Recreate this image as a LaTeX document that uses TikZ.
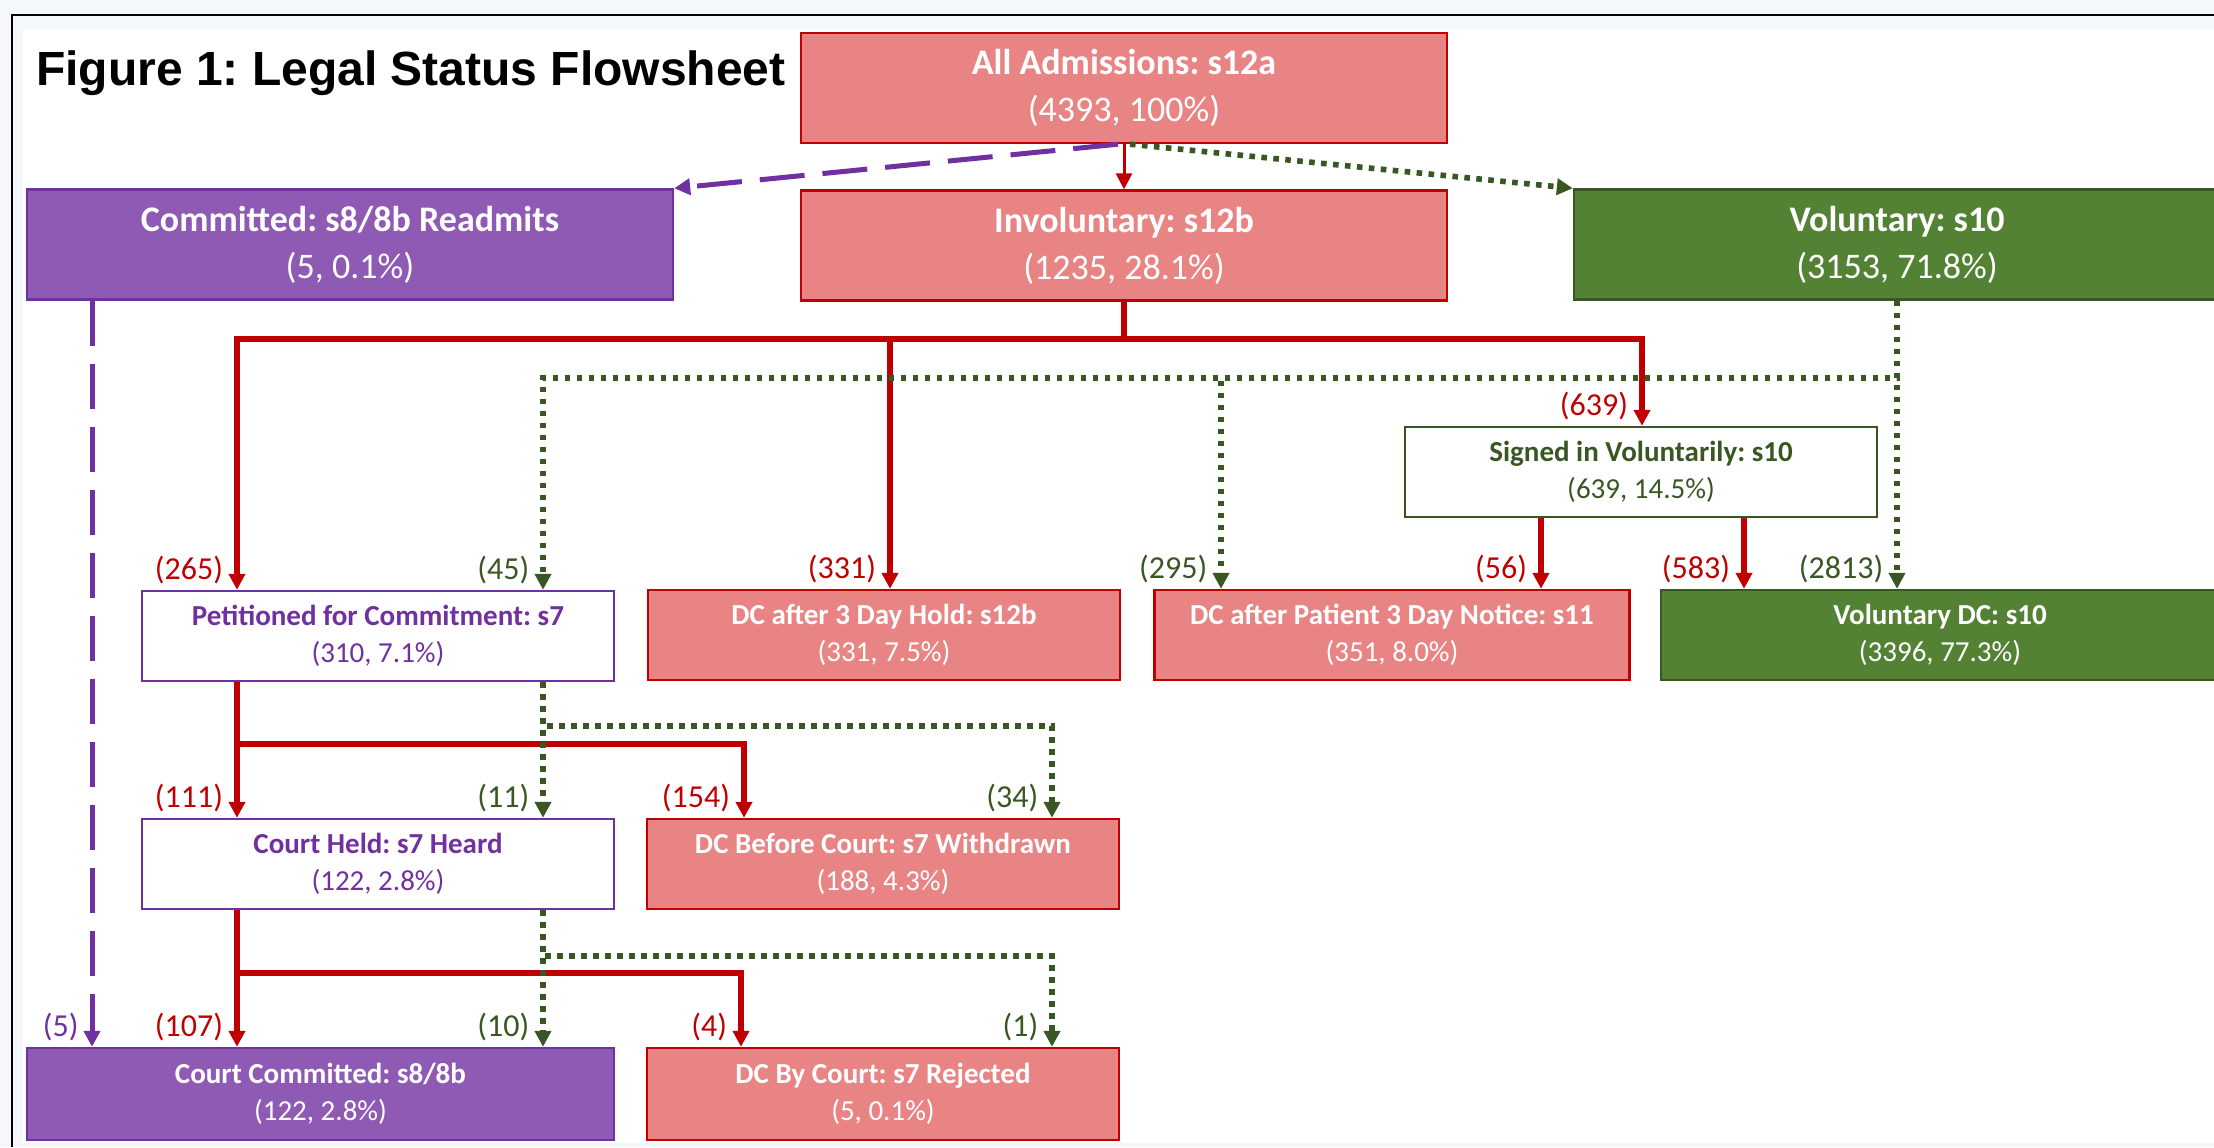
\documentclass[tikz,border=0pt]{standalone}
\usepackage{fontspec}
\setmainfont{Carlito}
\newfontfamily\titlefont{Liberation Sans}
\usetikzlibrary{arrows.meta}
\definecolor{dkred}{HTML}{C00000}
\definecolor{ltred}{HTML}{E88584}
\definecolor{dkgrn}{HTML}{385723}
\definecolor{mdgrn}{HTML}{548235}
\definecolor{dkpur}{HTML}{7030A0}
\definecolor{mdpur}{HTML}{8E5AB4}
\definecolor{bgcol}{HTML}{F5F8FB}
\frenchspacing
\begin{document}
\begin{tikzpicture}[x=0.5pt,y=-0.5pt,>={Triangle[length=8pt,width=8pt]},
  bigbox/.style={line width=1.2pt,minimum width=323pt,minimum height=55pt,align=center,font=\fontsize{18}{23.5}\selectfont},
  smallbox/.style={line width=1.2pt,minimum width=236pt,minimum height=45pt,align=center,font=\fontsize{14.5}{18.5}\selectfont},
  redbox/.style={draw=dkred,fill=ltred,text=white},
  grnbox/.style={draw=dkgrn,fill=mdgrn,text=white},
  purbox/.style={draw=dkpur,fill=mdpur,text=white},
  redln/.style={dkred,line width=3pt},
  grnln/.style={dkgrn,line width=2.8pt,dash pattern=on 2.8pt off 3.2pt},
  purln/.style={dkpur,line width=2.5pt,dash pattern=on 22.5pt off 9pt},
  cnt/.style={font=\fontsize{16}{19}\selectfont,anchor=south east,inner sep=0pt,xshift=-5.5pt,yshift=1.5pt}]
\useasboundingbox (0,0) rectangle (2214,1147);
\fill[bgcol] (0,0) rectangle (2214,1147);
\fill[white] (23,29) rectangle (2214,1143);
\draw[line width=0.8pt] (12,1147) |- (2214,15);
\node[anchor=base west,font=\titlefont\bfseries\fontsize{24}{28}\selectfont] (title) at (29,85) {Figure 1: Legal Status Flowsheet};
\node[bigbox,redbox] (all) at (1124,88) {\textbf{All Admissions: s12a}\\(4393, 100\%)};
\node[bigbox,redbox] (inv) at (1124,245.5) {\textbf{Involuntary: s12b}\\(1235, 28.1\%)};
\node[bigbox,purbox] (com) at (350,244.5) {\textbf{Committed: s8/8b Readmits}\\(5, 0.1\%)};
\node[bigbox,grnbox] (vol) at (1897,244.5) {\textbf{Voluntary: s10}\\(3153, 71.8\%)};
\node[smallbox,draw=dkgrn,fill=white,text=dkgrn] (sig) at (1641,472) {\textbf{Signed in Voluntarily: s10}\\(639, 14.5\%)};
\node[smallbox,draw=dkpur,fill=white,text=dkpur] (pet) at (378,636) {\textbf{Petitioned for Commitment: s7}\\(310, 7.1\%)};
\node[smallbox,redbox] (hold) at (884,635) {\textbf{DC after 3 Day Hold: s12b}\\(331, 7.5\%)};
\node[smallbox,redbox,minimum width=237.5pt] (pat) at (1392,635) {\textbf{DC after Patient 3 Day Notice: s11}\\(351, 8.0\%)};
\node[smallbox,grnbox,minimum width=279pt] (vdc) at (1940,635) {\textbf{Voluntary DC: s10}\\(3396, 77.3\%)};
\node[smallbox,draw=dkpur,fill=white,text=dkpur] (ch) at (378,864) {\textbf{Court Held: s7 Heard}\\(122, 2.8\%)};
\node[smallbox,redbox] (dcb) at (883,864) {\textbf{DC Before Court: s7 Withdrawn}\\(188, 4.3\%)};
\node[smallbox,purbox,minimum width=293.5pt,minimum height=46pt] (cc) at (320.5,1094) {\textbf{Court Committed: s8/8b}\\(122, 2.8\%)};
\node[smallbox,redbox,minimum height=46pt] (dbc) at (883,1094) {\textbf{DC By Court: s7 Rejected}\\(5, 0.1\%)};
\coordinate (b1) at (237,339);
\coordinate (b2) at (890,339);
\coordinate (b3) at (1642,339);
\coordinate (g1) at (543,378);
\coordinate (g2) at (1221,378);
\coordinate (c1) at (237,744);
\coordinate (c2) at (744,744);
\coordinate (d1) at (543,726);
\coordinate (d2) at (1052,726);
\coordinate (e1) at (237,973);
\coordinate (e2) at (741,973);
\coordinate (f1) at (543,956);
\coordinate (f2) at (1052,956);
\path[draw,dkred,line width=1.5pt,->] (all) -- (inv);
\path[draw,purln,->] ([xshift=-3pt]all.south) -- (com.north east);
\path[draw,grnln,->] ([xshift=3pt]all.south) -- (vol.north west);
\path[draw,redln,->] (inv.south) |- (b1) -- node[at end,cnt] {(265)} (b1 |- pet.north);
\path[draw,redln,->] (inv.south) |- (b2) -- node[at end,cnt] {(331)} (b2 |- hold.north);
\path[draw,redln,->] (inv.south) |- (b3) -- node[at end,cnt] {(639)} (b3 |- sig.north);
\path[draw,grnln,->] (vol.south) -- node[at end,cnt] {(2813)} (vol.south |- vdc.north);
\path[draw,grnln,->] (vol.south) |- (g1) -- node[at end,cnt] {(45)} (g1 |- pet.north);
\path[draw,grnln,->] (vol.south) |- (g2) -- node[at end,cnt] {(295)} (g2 |- pat.north);
\path[draw,redln,->] ([xshift=-50pt]sig.south) -- node[at end,cnt] {(56)} ([xshift=-50pt]sig.south |- pat.north);
\path[draw,redln,->] ([xshift=51.5pt]sig.south) -- node[at end,cnt] {(583)} ([xshift=51.5pt]sig.south |- vdc.north);
\path[draw,redln,->] (pet.south -| c1) -- node[at end,cnt] {(111)} (c1 |- ch.north);
\path[draw,redln,->] (pet.south -| c1) |- (c2) -- node[at end,cnt] {(154)} (c2 |- dcb.north);
\path[draw,grnln,->] (pet.south -| d1) -- node[at end,cnt] {(11)} (d1 |- ch.north);
\path[draw,grnln,->] (pet.south -| d1) |- (d2) -- node[at end,cnt] {(34)} (d2 |- dcb.north);
\path[draw,redln,->] (ch.south -| e1) -- node[at end,cnt] {(107)} (e1 |- cc.north);
\path[draw,redln,->] (ch.south -| e1) |- (e2) -- node[at end,cnt] {(4)} (e2 |- dbc.north);
\path[draw,grnln,->] (ch.south -| f1) -- node[at end,cnt] {(10)} (f1 |- cc.north);
\path[draw,grnln,->] (ch.south -| f1) |- (f2) -- node[at end,cnt] {(1)} (f2 |- dbc.north);
\path[draw,purln,->] ([xshift=-129pt]com.south) -- node[at end,cnt] {(5)} ([xshift=-129pt]com.south |- cc.north);
\end{tikzpicture}
\end{document}
